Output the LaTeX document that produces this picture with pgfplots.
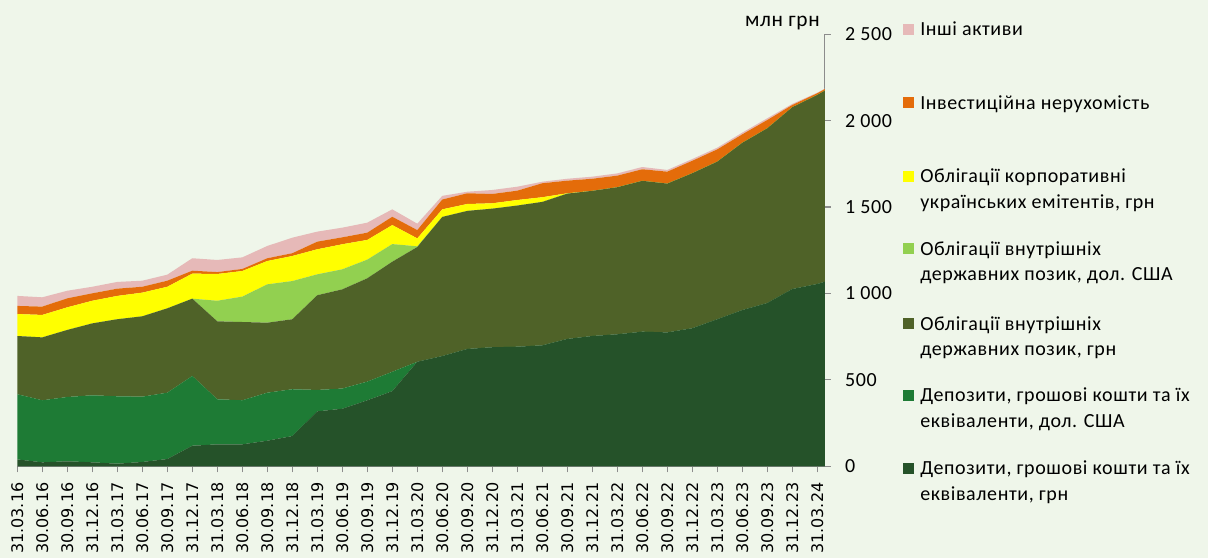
\documentclass[border=0pt]{standalone}
\usepackage{fontspec}
\setmainfont{Carlito}[LetterSpace=3]
\newfontfamily\dejavu{DejaVu Sans}
\usepackage{pgfplots}
\usepackage{pgfplotstable}
\pgfplotsset{compat=1.18}
\definecolor{bg}{HTML}{EFF6EA}
\definecolor{axisgray}{HTML}{8C8C8C}
\definecolor{cA}{HTML}{255229}
\definecolor{cB}{HTML}{1E7B35}
\definecolor{cC}{HTML}{4F6228}
\definecolor{cD}{HTML}{92D050}
\definecolor{cE}{HTML}{FFFF00}
\definecolor{cF}{HTML}{E46C0A}
\definecolor{cG}{HTML}{E6B9B8}

\pgfplotstableread{
x A B C D E F G
0 40 377 337 0 127 47 58
1 23 359 364 0 130 48 54
2 29 372 388 0 131 52 44
3 23 388 416 0 131 43 38
4 15 390 446 0 135 42 39
5 25 378 465 0 137 34 35
6 42 384 488 0 125 35 35
7 119 404 447 0 145 17 72
8 127 261 451 119 155 11 70
9 127 255 453 147 148 12 67
10 148 278 405 222 135 16 71
11 175 271 405 221 145 16 90
12 318 124 548 121 145 44 58
13 333 117 574 116 145 40 56
14 382 108 598 108 114 42 58
15 435 112 637 102 110 48 43
16 605 0 664 4 46 48 37
17 638 0 805 0 44 57 21
18 679 0 799 0 40 62 9
19 689 0 802 0 31 54 23
20 692 0 817 0 32 54 23
21 700 0 830 0 27 81 9
22 737 0 841 0 2 73 11
23 754 0 840 0 0 70 12
24 764 0 851 0 0 67 13
25 779 0 873 0 0 67 13
26 775 0 861 0 0 69 10
27 799 0 897 0 0 72 10
28 851 0 912 0 0 71 10
29 904 0 968 0 0 49 10
30 945 0 1011 0 0 48 10
31 1026 0 1052 0 0 13 6
32 1055 0 1094 0 0 10 3
33 1098 0 1134 0 0 6 2
}\datatab

\begin{document}
\begin{tikzpicture}
\path[use as bounding box, fill=bg] (0,0) rectangle (906pt,418.5pt);
\begin{axis}[
  at={(12.975pt,68.78pt)}, anchor=south west,
  scale only axis, width=605.6pt, height=324pt,
  xmin=0, xmax=32.3, ymin=0, ymax=2500,
  stack plots=y,
  axis x line*=bottom, axis y line*=right,
  axis line style={draw=axisgray, line width=0.9pt},
  xtick={0,...,32},
  xticklabels={31.03.16,30.06.16,30.09.16,31.12.16,31.03.17,30.06.17,30.09.17,31.12.17,31.03.18,30.06.18,30.09.18,31.12.18,31.03.19,30.06.19,30.09.19,31.12.19,31.03.20,30.06.20,30.09.20,31.12.20,31.03.21,30.06.21,30.09.21,31.12.21,31.03.22,30.06.22,30.09.22,31.12.22,31.03.23,30.06.23,30.09.23,31.12.23,31.03.24},
  ytick={0,500,1000,1500,2000,2500},
  yticklabels={0,500,1 000,1 500,2 000,2 500},
  tick align=outside, major tick length=4.5pt,
  tick style={draw=axisgray, line width=0.9pt},
  xticklabel style={rotate=90, anchor=east, inner sep=0pt, xshift=-7.5pt, font=\dejavu\fontsize{12}{12}\selectfont},
  yticklabel style={anchor=west, inner sep=0pt, xshift=10.5pt, font=\fontsize{15}{15}\selectfont},
]
\addplot[fill=cA, draw=none] table[x=x,y=A]{\datatab} \closedcycle;
\addplot[fill=cB, draw=none] table[x=x,y=B]{\datatab} \closedcycle;
\addplot[fill=cC, draw=none] table[x=x,y=C]{\datatab} \closedcycle;
\addplot[fill=cD, draw=none] table[x=x,y=D]{\datatab} \closedcycle;
\addplot[fill=cE, draw=none] table[x=x,y=E]{\datatab} \closedcycle;
\addplot[fill=cF, draw=none] table[x=x,y=F]{\datatab} \closedcycle;
\addplot[fill=cG, draw=none] table[x=x,y=G]{\datatab} \closedcycle;
\end{axis}
\node[anchor=base east, inner sep=0pt, font=\fontsize{16}{16}\selectfont] at (615pt,398.5pt) {млн грн};
\begin{scope}[every node/.style={anchor=base west, inner sep=0pt, font=\fontsize{15}{15}\selectfont}]
\fill[cG] (677.25pt,392.25pt) rectangle ++(8.25pt,8.25pt);
\node at (690pt,391.65pt) {Інші активи};
\fill[cF] (677.25pt,337.3pt) rectangle ++(8.25pt,8.25pt);
\node at (690pt,336.7pt) {Інвестиційна нерухомість};
\fill[cE] (677.25pt,282.2pt) rectangle ++(8.25pt,8.25pt);
\node at (690pt,281.6pt) {Облігації корпоративні};
\node at (690pt,262.3pt) {українських емітентів, грн};
\fill[cD] (677.25pt,227.8pt) rectangle ++(8.25pt,8.25pt);
\node at (690pt,227.2pt) {Облігації внутрішніх};
\node at (690pt,207.9pt) {державних позик, дол. США};
\fill[cC] (677.25pt,171.5pt) rectangle ++(8.25pt,8.25pt);
\node at (690pt,170.9pt) {Облігації внутрішніх};
\node at (690pt,151.6pt) {державних позик, грн};
\fill[cB] (677.25pt,117.75pt) rectangle ++(8.25pt,8.25pt);
\node at (690pt,117.15pt) {Депозити, грошові кошти та їх};
\node at (690pt,97.85pt) {еквіваленти, дол. США};
\fill[cA] (677.25pt,63.2pt) rectangle ++(8.25pt,8.25pt);
\node at (690pt,62.6pt) {Депозити, грошові кошти та їх};
\node at (690pt,43.3pt) {еквіваленти, грн};
\end{scope}
\end{tikzpicture}
\end{document}
